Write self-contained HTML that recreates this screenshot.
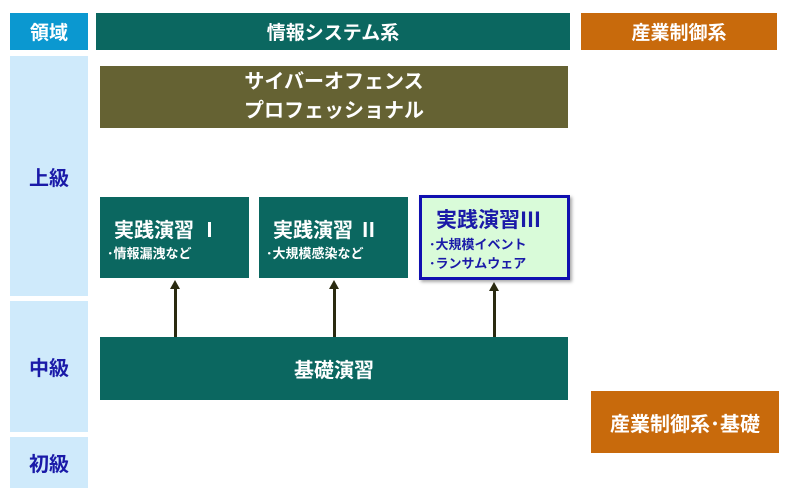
<!DOCTYPE html>
<html><head><meta charset="utf-8"><style>
body{margin:0;width:800px;height:494px;background:#fff;position:relative;overflow:hidden;font-family:"Liberation Sans","Noto Sans CJK JP",sans-serif;font-weight:bold}
.b{position:absolute;box-sizing:border-box;display:flex;align-items:center;justify-content:center;text-align:center;color:#fff}
.t{background:#0b6760}
.lv{background:#cfeafb;color:#1a1aa8;font-size:20px}
.s{flex-direction:column;align-items:flex-start;padding-left:14px;justify-content:center}
.s .h{font-size:20px;margin-left:0}
.s .l{font-size:13px;margin-left:-7px}
.arr{position:absolute;width:3px;background:#2a2a10}
.ah{position:absolute;width:0;height:0;border-left:5px solid transparent;border-right:5px solid transparent;border-bottom:9px solid #2a2a10}
</style></head><body>
<div class="b" style="left:10px;top:13px;width:78px;height:37px;background:#0b98d0;font-size:19px">領域</div>
<div class="b t" style="left:96px;top:13px;width:474px;height:37px;font-size:19px">情報システム系</div>
<div class="b" style="left:581px;top:13px;width:196px;height:37px;background:#c86a0c;font-size:19px">産業制御系</div>
<div class="b lv" style="left:10px;top:56px;width:78px;height:240px">上級</div>
<div class="b lv" style="left:10px;top:301px;width:78px;height:131px">中級</div>
<div class="b lv" style="left:10px;top:437px;width:78px;height:51px">初級</div>
<div class="b" style="left:100px;top:66px;width:468px;height:62px;background:#656233;font-size:20px;line-height:29px">サイバーオフェンス<br>プロフェッショナル</div>
<div class="b t s" style="left:100px;top:197px;width:149px;height:81px"><div class="h">実践演習 Ⅰ</div><div class="l">･情報漏洩など</div></div>
<div class="b t s" style="left:259px;top:197px;width:149px;height:81px"><div class="h">実践演習 Ⅱ</div><div class="l">･大規模感染など</div></div>
<div class="b s" style="left:419px;top:195px;width:151px;height:85px;background:#d9fbd9;border:3px solid #1010b0;color:#1a1aa8;box-shadow:2px 2px 3px #aaa"><div class="h" style="font-size:21px">実践演習Ⅲ</div><div class="l">･大規模イベント</div><div class="l">･ランサムウェア</div></div>
<div class="arr" style="left:174px;top:288px;height:49px"></div><div class="ah" style="left:170px;top:280px"></div>
<div class="arr" style="left:333px;top:288px;height:49px"></div><div class="ah" style="left:329px;top:280px"></div>
<div class="arr" style="left:493px;top:290px;height:47px"></div><div class="ah" style="left:489px;top:282px"></div>
<div class="b t" style="left:100px;top:337px;width:468px;height:63px;font-size:20px">基礎演習</div>
<div class="b" style="left:591px;top:391px;width:188px;height:62px;background:#c86a0c;font-size:20px">産業制御系･基礎</div>
</body></html>
